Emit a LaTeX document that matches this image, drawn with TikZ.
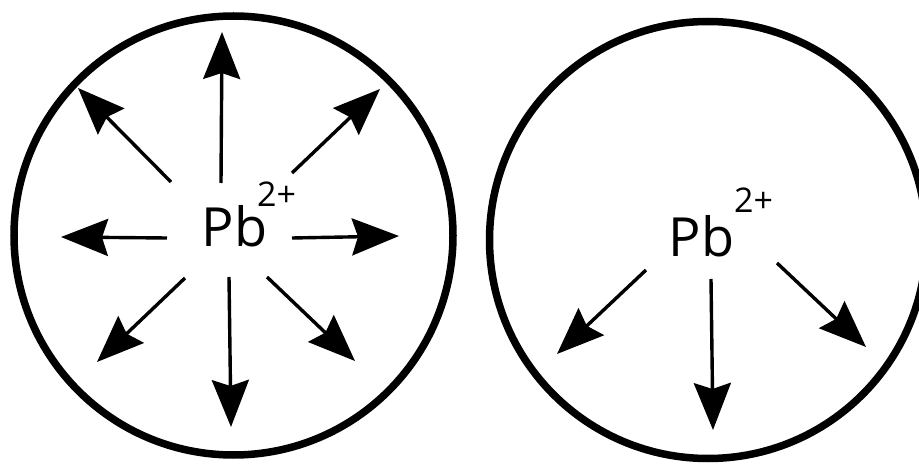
\documentclass[tikz,border=0pt]{standalone}
\usepackage{fontspec}
\setmainfont{Open Sans}
\usetikzlibrary{arrows.meta}

\begin{document}
\begin{tikzpicture}[
  x=1pt, y=-1pt,
  rim/.style={line width=7.5pt},
  ray/.style={line width=3.4pt, -{Stealth[length=47pt,width=37pt,inset=6pt]}},
  ion/.style={inner sep=0pt, anchor=base west, font=\fontsize{54}{60}\selectfont},
  charge/.style={inner sep=0pt, anchor=base west, font=\fontsize{34}{40}\selectfont}
]
  \useasboundingbox (0,0) rectangle (919,465);

  % free ion: field in all directions
  \begin{scope}
    \draw[rim] (233.5,235.5) circle [radius=219.5pt];
    \node[ion] (pbL) at (201.5,247) {Pb};
    \node[charge] (qL) at (257,207) {2+};
    \coordinate (nL) at (221,183);  \coordinate (nLt) at (222,32);
    \coordinate (neL) at (292,173); \coordinate (neLt) at (380,89);
    \coordinate (eL) at (292,238);  \coordinate (eLt) at (399,236);
    \coordinate (seL) at (267,277); \coordinate (seLt) at (355,361);
    \coordinate (sL) at (229,277);  \coordinate (sLt) at (231,427);
    \coordinate (swL) at (185,278); \coordinate (swLt) at (97,362);
    \coordinate (wL) at (167,238);  \coordinate (wLt) at (61,237);
    \coordinate (nwL) at (171,182); \coordinate (nwLt) at (78,88);
    \draw[ray] (nL)--(nLt);   \draw[ray] (neL)--(neLt);
    \draw[ray] (eL)--(eLt);   \draw[ray] (seL)--(seLt);
    \draw[ray] (sL)--(sLt);   \draw[ray] (swL)--(swLt);
    \draw[ray] (wL)--(wLt);   \draw[ray] (nwL)--(nwLt);
  \end{scope}

  % ion with only the lower directions
  \begin{scope}
    \draw[rim] (708,240) circle [radius=218.5pt];
    \node[ion] (pbR) at (668.5,257) {Pb};
    \node[charge] (qR) at (734,213) {2+};
    \coordinate (swR) at (646,270); \coordinate (swRt) at (557,354);
    \coordinate (sR) at (711,279);  \coordinate (sRt) at (713,430);
    \coordinate (seR) at (777,263); \coordinate (seRt) at (866,347);
    \draw[ray] (swR)--(swRt);
    \draw[ray] (sR)--(sRt);
    \draw[ray] (seR)--(seRt);
  \end{scope}
\end{tikzpicture}
\end{document}
